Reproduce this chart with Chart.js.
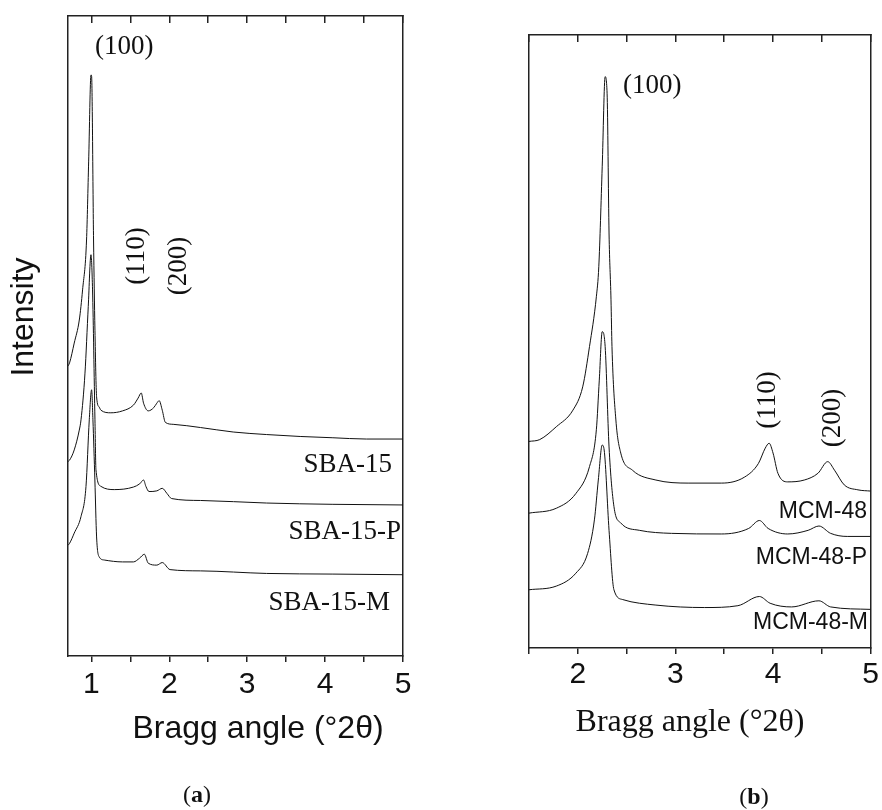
<!DOCTYPE html>
<html>
<head>
<meta charset="utf-8">
<script src="https://cdn.jsdelivr.net/npm/chart.js@4.4.0/dist/chart.umd.min.js"></script>
<style>
  body { margin: 0; background: #fff; }
  #wrap { position: relative; width: 882px; height: 810px; }
  canvas { position: absolute; top: 0; }
  #chartA { left: 0; }
  #chartB { left: 441px; }
</style>
</head>
<body>
<div id="wrap">
  <canvas id="chartA" width="441" height="810"></canvas>
  <canvas id="chartB" width="441" height="810"></canvas>
</div>
<script>
// ---- (a) SBA-15 family: Bragg angle (°2θ) vs stacked intensity (a.u.)
const sba15Angle = [0.70, 0.72, 0.78, 0.845, 0.887, 0.938, 0.965, 0.995, 1.003, 1.028, 1.046, 1.067, 1.10, 1.123, 1.25, 1.40, 1.54, 1.60, 1.64, 1.67, 1.73, 1.80, 1.84, 1.87, 1.91, 1.95, 2.05, 2.40, 2.82, 3.25, 3.68, 4.10, 4.53, 5.00];
const sba15 = [45.3, 45.8, 48.9, 52.5, 57.2, 65.0, 77.2, 90.8, 90.6, 65.0, 50.9, 40.5, 38.9, 38.4, 38.0, 38.3, 39.2, 40.3, 41.1, 39.5, 38.3, 38.8, 39.5, 39.9, 38.4, 36.5, 36.2, 35.7, 35.0, 34.6, 34.3, 34.1, 33.9, 33.9];

const sba15pAngle = [0.70, 0.72, 0.78, 0.845, 0.867, 0.918, 0.96, 0.995, 1.015, 1.046, 1.059, 1.123, 1.294, 1.54, 1.62, 1.67, 1.70, 1.74, 1.84, 1.91, 1.97, 2.03, 2.40, 3.25, 4.10, 5.00];
const sba15p = [30.4, 30.6, 32.2, 35.3, 36.9, 44.2, 54.6, 62.7, 57.2, 36.9, 29.1, 26.5, 26.0, 26.4, 26.9, 27.5, 26.5, 25.7, 25.8, 26.2, 25.4, 24.6, 24.3, 23.9, 23.7, 23.6];

const sba15mAngle = [0.70, 0.72, 0.78, 0.867, 0.931, 0.973, 1.003, 1.02, 1.045, 1.067, 1.10, 1.165, 1.40, 1.54, 1.62, 1.68, 1.73, 1.84, 1.91, 2.01, 2.40, 3.25, 4.10, 5.00];
const sba15m = [17.3, 17.6, 19.2, 21.8, 26.5, 36.9, 41.6, 36.9, 27.5, 18.6, 15.5, 15.0, 14.7, 14.7, 15.3, 15.9, 14.5, 14.2, 14.6, 13.5, 13.3, 12.9, 12.8, 12.7];

// ---- (b) MCM-48 family
const mcm48Angle = [1.50, 1.61, 1.78, 1.95, 2.05, 2.12, 2.19, 2.215, 2.25, 2.28, 2.30, 2.32, 2.34, 2.35, 2.39, 2.44, 2.56, 2.80, 3.13, 3.47, 3.71, 3.85, 3.92, 3.96, 4.00, 4.05, 4.15, 4.32, 4.46, 4.56, 4.63, 4.73, 4.87, 5.00];
const mcm48 = [33.7, 34.0, 36.1, 38.8, 42.6, 49.2, 57.3, 62.2, 78.5, 93.2, 90.5, 67.7, 56.8, 49.2, 37.2, 31.8, 29.0, 27.4, 26.9, 26.9, 27.9, 30.1, 32.6, 33.4, 31.8, 28.5, 27.1, 27.4, 28.5, 30.4, 29.0, 26.6, 25.8, 25.6];

const mcm48pAngle = [1.50, 1.78, 1.98, 2.12, 2.19, 2.22, 2.25, 2.28, 2.32, 2.37, 2.44, 2.63, 2.96, 3.47, 3.75, 3.86, 3.95, 4.15, 4.36, 4.47, 4.59, 4.76, 5.00];
const mcm48p = [22.0, 22.8, 25.2, 29.6, 35.6, 43.7, 51.6, 49.2, 32.8, 23.1, 20.4, 19.2, 18.7, 18.6, 19.5, 20.8, 19.5, 18.6, 19.2, 19.9, 18.7, 18.2, 18.2];

const mcm48mAngle = [1.50, 1.78, 1.98, 2.10, 2.17, 2.21, 2.25, 2.27, 2.32, 2.37, 2.46, 2.80, 3.30, 3.64, 3.86, 3.97, 4.19, 4.47, 4.59, 5.00];
const mcm48m = [9.5, 10.1, 12.2, 15.4, 20.9, 27.4, 33.1, 32.3, 19.2, 9.5, 7.9, 7.0, 6.6, 6.9, 8.4, 7.3, 6.7, 7.7, 6.7, 6.3];

// ticks
const tickValuesA = [1, 1.5, 2, 2.5, 3, 3.5, 4, 4.5, 5];
const tickLabelsA = ['1', '', '2', '', '3', '', '4', '', '5'];
const tickValuesB = [1.5, 2, 2.5, 3, 3.5, 4, 4.5, 5];
const tickLabelsB = ['', '2', '', '3', '', '4', '', '5'];

const SANS = 'Liberation Sans, Arial, sans-serif';
const SERIF = 'Liberation Serif, Times New Roman, serif';
const INK = '#111';
const FRAME = '#222';

const pairs = (xs, ys) => xs.map((x, i) => ({ x: x, y: ys[i] }));

const series = (label, xs, ys) => ({
    label: label,
    data: pairs(xs, ys),
    borderColor: INK,
    borderWidth: 1,
    pointRadius: 0,
    fill: false,
    cubicInterpolationMode: 'monotone'
});

// free text (peak indices, sample names, axis titles)
const textPlugin = (items) => ({
    id: 'annot',
    afterDraw(chart) {
        const ctx = chart.ctx;
        items.forEach(t => {
            ctx.save();
            ctx.fillStyle = INK;
            ctx.translate(t.x, t.y);
            if (t.rot) ctx.rotate(-Math.PI / 2);
            ctx.textBaseline = t.base || 'middle';
            if (t.parts) {
                // mixed weight, e.g. "(a)" with bold letter
                let w = 0;
                t.parts.forEach(p => { ctx.font = p.font; w += ctx.measureText(p.text).width; });
                let x = -w / 2;
                ctx.textAlign = 'left';
                t.parts.forEach(p => {
                    ctx.font = p.font;
                    ctx.fillText(p.text, x, 0);
                    x += ctx.measureText(p.text).width;
                });
            } else {
                ctx.font = t.font;
                ctx.textAlign = t.align || 'center';
                ctx.fillText(t.text, 0, 0);
            }
            ctx.restore();
        });
    }
});

function makeChart(id, datasets, cfg) {
    const tickOpts = {
        autoSkip: false,
        maxRotation: 0,
        padding: cfg.tickPad,
        color: INK,
        font: { family: SANS, size: 30 },
        callback: (v, i) => cfg.tickLabels[i]
    };
    return new Chart(document.getElementById(id), {
        type: 'line',
        data: { datasets: datasets },
        options: {
            responsive: false,
            animation: false,
            layout: { padding: cfg.padding },
            plugins: { legend: { display: false }, tooltip: { enabled: false } },
            scales: {
                x: {
                    type: 'linear', position: 'bottom', min: cfg.min, max: 5,
                    afterBuildTicks: s => { s.ticks = cfg.tickValues.map(v => ({ value: v })); },
                    afterFit: s => { s.height = cfg.xHeight; },
                    ticks: tickOpts,
                    grid: { drawOnChartArea: false, tickLength: 6, color: FRAME, lineWidth: 1.5 },
                    border: { color: FRAME, width: 1.5 }
                },
                x2: {
                    type: 'linear', position: 'top', min: cfg.min, max: 5,
                    afterBuildTicks: s => { s.ticks = cfg.tickValues.map(v => ({ value: v })); },
                    afterFit: s => { s.height = 0; },
                    ticks: { display: false },
                    grid: { drawOnChartArea: false, tickLength: -7, color: FRAME, lineWidth: 1.5 },
                    border: { color: FRAME, width: 1.5 }
                },
                y: {
                    type: 'linear', position: 'left', min: 0, max: 100,
                    afterFit: s => { s.width = cfg.yWidth; },
                    ticks: { display: false },
                    grid: { display: false },
                    border: { color: FRAME, width: 1.5 }
                },
                y2: {
                    type: 'linear', position: 'right', min: 0, max: 100,
                    afterFit: s => { s.width = 0; },
                    ticks: { display: false },
                    grid: { display: false },
                    border: { color: FRAME, width: 1.5 }
                }
            }
        },
        plugins: [textPlugin(cfg.texts)]
    });
}

const idxFont = '27px ' + SERIF;
const panelFont = '24px ' + SERIF;
const panelBold = 'bold 24px ' + SERIF;

makeChart('chartA', [
    series('SBA-15', sba15Angle, sba15),
    series('SBA-15-P', sba15pAngle, sba15p),
    series('SBA-15-M', sba15mAngle, sba15m)
], {
    min: 0.7,
    padding: { left: 0, right: 38, top: 16, bottom: 0 },
    xHeight: 154,
    yWidth: 68,
    tickPad: 5,
    tickValues: tickValuesA,
    tickLabels: tickLabelsA,
    texts: [
        { text: 'Intensity', x: 24, y: 317, rot: true, font: '32px ' + SANS },
        { text: 'Bragg angle (°2θ)', x: 258, y: 738, base: 'alphabetic', font: '32px ' + SANS },
        { x: 197, y: 796, parts: [
            { text: '(', font: panelFont },
            { text: 'a', font: panelBold },
            { text: ')', font: panelFont }] },
        { text: '(100)', x: 95, y: 47, align: 'left', font: idxFont },
        { text: '(110)', x: 137, y: 256, rot: true, font: idxFont },
        { text: '(200)', x: 179, y: 266, rot: true, font: idxFont },
        { text: 'SBA-15', x: 392, y: 465, align: 'right', font: idxFont },
        { text: 'SBA-15-P', x: 401, y: 532, align: 'right', font: idxFont },
        { text: 'SBA-15-M', x: 390, y: 603, align: 'right', font: idxFont }
    ]
});

makeChart('chartB', [
    series('MCM-48', mcm48Angle, mcm48),
    series('MCM-48-P', mcm48pAngle, mcm48p),
    series('MCM-48-M', mcm48mAngle, mcm48m)
], {
    min: 1.5,
    padding: { left: 0, right: 9, top: 35, bottom: 0 },
    xHeight: 162,
    yWidth: 88,
    tickPad: 3,
    tickValues: tickValuesB,
    tickLabels: tickLabelsB,
    texts: [
        { text: 'Bragg angle (°2θ)', x: 249, y: 731, base: 'alphabetic', font: '32px ' + SERIF },
        { x: 313, y: 798, parts: [
            { text: '(', font: panelFont },
            { text: 'b', font: panelBold },
            { text: ')', font: panelFont }] },
        { text: '(100)', x: 182, y: 86, align: 'left', font: idxFont },
        { text: '(110)', x: 327, y: 400, rot: true, font: idxFont },
        { text: '(200)', x: 392, y: 418, rot: true, font: idxFont },
        { text: 'MCM-48', x: 426, y: 512, align: 'right', font: '23px ' + SANS },
        { text: 'MCM-48-P', x: 426, y: 558, align: 'right', font: '23px ' + SANS },
        { text: 'MCM-48-M', x: 427, y: 623, align: 'right', font: '23px ' + SANS }
    ]
});
</script>
</body>
</html>
